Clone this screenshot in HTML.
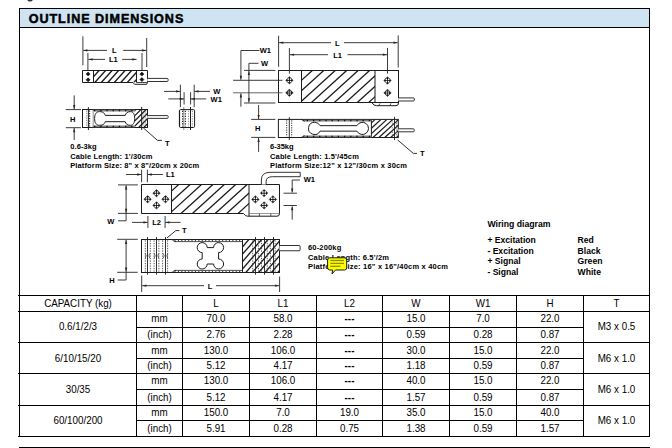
<!DOCTYPE html><html><head><meta charset="utf-8"><style>html,body{margin:0;padding:0;background:#fff;overflow:hidden;}svg{display:block;}text{font-family:"Liberation Sans", sans-serif;}</style></head><body>
<svg width="672" height="448" viewBox="0 0 672 448">
<rect width="672" height="448" fill="#fff"/>
<rect x="19.5" y="8.5" width="630" height="19" fill="#cfe4f2" stroke="#000" stroke-width="1"/>
<text x="28.7" y="22.9" font-size="12.6" font-weight="bold" text-anchor="start" fill="#000" textLength="154.6" lengthAdjust="spacing" stroke="#000" stroke-width="0.5">OUTLINE DIMENSIONS</text>
<path d="M27.3,0 H32.8 Q32.2,1.6 30,1.6 Q27.8,1.6 27.3,0 Z" fill="#333"/>
<line x1="19.5" y1="8" x2="19.5" y2="437" stroke="#000" stroke-width="1" />
<line x1="649.5" y1="8" x2="649.5" y2="437" stroke="#000" stroke-width="1" />
<line x1="19" y1="447.5" x2="650" y2="447.5" stroke="#000" stroke-width="1" />
<line x1="18" y1="295.5" x2="650" y2="295.5" stroke="#000" stroke-width="1" />
<line x1="18" y1="311.5" x2="650" y2="311.5" stroke="#000" stroke-width="1" />
<line x1="136.5" y1="327.5" x2="583.5" y2="327.5" stroke="#000" stroke-width="1" />
<line x1="18" y1="342.5" x2="650" y2="342.5" stroke="#000" stroke-width="1" />
<line x1="136.5" y1="358.5" x2="583.5" y2="358.5" stroke="#000" stroke-width="1" />
<line x1="18" y1="373.5" x2="650" y2="373.5" stroke="#000" stroke-width="1" />
<line x1="136.5" y1="389.5" x2="583.5" y2="389.5" stroke="#000" stroke-width="1" />
<line x1="18" y1="405.5" x2="650" y2="405.5" stroke="#000" stroke-width="1" />
<line x1="136.5" y1="420.5" x2="583.5" y2="420.5" stroke="#000" stroke-width="1" />
<line x1="18" y1="436.5" x2="650" y2="436.5" stroke="#000" stroke-width="1" />
<line x1="136.5" y1="295" x2="136.5" y2="437" stroke="#000" stroke-width="1" />
<line x1="182.5" y1="295" x2="182.5" y2="437" stroke="#000" stroke-width="1" />
<line x1="249.5" y1="295" x2="249.5" y2="437" stroke="#000" stroke-width="1" />
<line x1="316.5" y1="295" x2="316.5" y2="437" stroke="#000" stroke-width="1" />
<line x1="382.5" y1="295" x2="382.5" y2="437" stroke="#000" stroke-width="1" />
<line x1="449.5" y1="295" x2="449.5" y2="437" stroke="#000" stroke-width="1" />
<line x1="516.5" y1="295" x2="516.5" y2="437" stroke="#000" stroke-width="1" />
<line x1="583.5" y1="295" x2="583.5" y2="437" stroke="#000" stroke-width="1" />
<text transform="translate(78.00,307) scale(0.965,1)" font-size="10.17" font-weight="normal" text-anchor="middle" fill="#000">CAPACITY (kg)</text>
<text transform="translate(216.00,307) scale(0.965,1)" font-size="10.17" font-weight="normal" text-anchor="middle" fill="#000">L</text>
<text transform="translate(283.00,307) scale(0.965,1)" font-size="10.17" font-weight="normal" text-anchor="middle" fill="#000">L1</text>
<text transform="translate(349.50,307) scale(0.965,1)" font-size="10.17" font-weight="normal" text-anchor="middle" fill="#000">L2</text>
<text transform="translate(416.00,307) scale(0.965,1)" font-size="10.17" font-weight="normal" text-anchor="middle" fill="#000">W</text>
<text transform="translate(483.00,307) scale(0.965,1)" font-size="10.17" font-weight="normal" text-anchor="middle" fill="#000">W1</text>
<text transform="translate(550.00,307) scale(0.965,1)" font-size="10.17" font-weight="normal" text-anchor="middle" fill="#000">H</text>
<text transform="translate(616.50,307) scale(0.965,1)" font-size="10.17" font-weight="normal" text-anchor="middle" fill="#000">T</text>
<text transform="translate(78.00,330) scale(0.965,1)" font-size="10.17" font-weight="normal" text-anchor="middle" fill="#000">0.6/1/2/3</text>
<text transform="translate(159.50,322) scale(0.965,1)" font-size="10.17" font-weight="normal" text-anchor="middle" fill="#000">mm</text>
<text transform="translate(159.50,338) scale(0.965,1)" font-size="10.17" font-weight="normal" text-anchor="middle" fill="#000">(inch)</text>
<text transform="translate(216.00,322) scale(0.965,1)" font-size="10.17" font-weight="normal" text-anchor="middle" fill="#000">70.0</text>
<text transform="translate(216.00,338) scale(0.965,1)" font-size="10.17" font-weight="normal" text-anchor="middle" fill="#000">2.76</text>
<text transform="translate(283.00,322) scale(0.965,1)" font-size="10.17" font-weight="normal" text-anchor="middle" fill="#000">58.0</text>
<text transform="translate(283.00,338) scale(0.965,1)" font-size="10.17" font-weight="normal" text-anchor="middle" fill="#000">2.28</text>
<text transform="translate(349.50,322) scale(0.965,1)" font-size="10.17" font-weight="bold" text-anchor="middle" fill="#000">---</text>
<text transform="translate(349.50,338) scale(0.965,1)" font-size="10.17" font-weight="bold" text-anchor="middle" fill="#000">---</text>
<text transform="translate(416.00,322) scale(0.965,1)" font-size="10.17" font-weight="normal" text-anchor="middle" fill="#000">15.0</text>
<text transform="translate(416.00,338) scale(0.965,1)" font-size="10.17" font-weight="normal" text-anchor="middle" fill="#000">0.59</text>
<text transform="translate(483.00,322) scale(0.965,1)" font-size="10.17" font-weight="normal" text-anchor="middle" fill="#000">7.0</text>
<text transform="translate(483.00,338) scale(0.965,1)" font-size="10.17" font-weight="normal" text-anchor="middle" fill="#000">0.28</text>
<text transform="translate(550.00,322) scale(0.965,1)" font-size="10.17" font-weight="normal" text-anchor="middle" fill="#000">22.0</text>
<text transform="translate(550.00,338) scale(0.965,1)" font-size="10.17" font-weight="normal" text-anchor="middle" fill="#000">0.87</text>
<text transform="translate(616.50,330) scale(0.965,1)" font-size="10.17" font-weight="normal" text-anchor="middle" fill="#000">M3 x 0.5</text>
<text transform="translate(78.00,362) scale(0.965,1)" font-size="10.17" font-weight="normal" text-anchor="middle" fill="#000">6/10/15/20</text>
<text transform="translate(159.50,354) scale(0.965,1)" font-size="10.17" font-weight="normal" text-anchor="middle" fill="#000">mm</text>
<text transform="translate(159.50,369) scale(0.965,1)" font-size="10.17" font-weight="normal" text-anchor="middle" fill="#000">(inch)</text>
<text transform="translate(216.00,354) scale(0.965,1)" font-size="10.17" font-weight="normal" text-anchor="middle" fill="#000">130.0</text>
<text transform="translate(216.00,369) scale(0.965,1)" font-size="10.17" font-weight="normal" text-anchor="middle" fill="#000">5.12</text>
<text transform="translate(283.00,354) scale(0.965,1)" font-size="10.17" font-weight="normal" text-anchor="middle" fill="#000">106.0</text>
<text transform="translate(283.00,369) scale(0.965,1)" font-size="10.17" font-weight="normal" text-anchor="middle" fill="#000">4.17</text>
<text transform="translate(349.50,354) scale(0.965,1)" font-size="10.17" font-weight="bold" text-anchor="middle" fill="#000">---</text>
<text transform="translate(349.50,369) scale(0.965,1)" font-size="10.17" font-weight="bold" text-anchor="middle" fill="#000">---</text>
<text transform="translate(416.00,354) scale(0.965,1)" font-size="10.17" font-weight="normal" text-anchor="middle" fill="#000">30.0</text>
<text transform="translate(416.00,369) scale(0.965,1)" font-size="10.17" font-weight="normal" text-anchor="middle" fill="#000">1.18</text>
<text transform="translate(483.00,354) scale(0.965,1)" font-size="10.17" font-weight="normal" text-anchor="middle" fill="#000">15.0</text>
<text transform="translate(483.00,369) scale(0.965,1)" font-size="10.17" font-weight="normal" text-anchor="middle" fill="#000">0.59</text>
<text transform="translate(550.00,354) scale(0.965,1)" font-size="10.17" font-weight="normal" text-anchor="middle" fill="#000">22.0</text>
<text transform="translate(550.00,369) scale(0.965,1)" font-size="10.17" font-weight="normal" text-anchor="middle" fill="#000">0.87</text>
<text transform="translate(616.50,362) scale(0.965,1)" font-size="10.17" font-weight="normal" text-anchor="middle" fill="#000">M6 x 1.0</text>
<text transform="translate(78.00,393) scale(0.965,1)" font-size="10.17" font-weight="normal" text-anchor="middle" fill="#000">30/35</text>
<text transform="translate(159.50,384) scale(0.965,1)" font-size="10.17" font-weight="normal" text-anchor="middle" fill="#000">mm</text>
<text transform="translate(159.50,401) scale(0.965,1)" font-size="10.17" font-weight="normal" text-anchor="middle" fill="#000">(inch)</text>
<text transform="translate(216.00,384) scale(0.965,1)" font-size="10.17" font-weight="normal" text-anchor="middle" fill="#000">130.0</text>
<text transform="translate(216.00,401) scale(0.965,1)" font-size="10.17" font-weight="normal" text-anchor="middle" fill="#000">5.12</text>
<text transform="translate(283.00,384) scale(0.965,1)" font-size="10.17" font-weight="normal" text-anchor="middle" fill="#000">106.0</text>
<text transform="translate(283.00,401) scale(0.965,1)" font-size="10.17" font-weight="normal" text-anchor="middle" fill="#000">4.17</text>
<text transform="translate(349.50,384) scale(0.965,1)" font-size="10.17" font-weight="bold" text-anchor="middle" fill="#000">---</text>
<text transform="translate(349.50,401) scale(0.965,1)" font-size="10.17" font-weight="bold" text-anchor="middle" fill="#000">---</text>
<text transform="translate(416.00,384) scale(0.965,1)" font-size="10.17" font-weight="normal" text-anchor="middle" fill="#000">40.0</text>
<text transform="translate(416.00,401) scale(0.965,1)" font-size="10.17" font-weight="normal" text-anchor="middle" fill="#000">1.57</text>
<text transform="translate(483.00,384) scale(0.965,1)" font-size="10.17" font-weight="normal" text-anchor="middle" fill="#000">15.0</text>
<text transform="translate(483.00,401) scale(0.965,1)" font-size="10.17" font-weight="normal" text-anchor="middle" fill="#000">0.59</text>
<text transform="translate(550.00,384) scale(0.965,1)" font-size="10.17" font-weight="normal" text-anchor="middle" fill="#000">22.0</text>
<text transform="translate(550.00,401) scale(0.965,1)" font-size="10.17" font-weight="normal" text-anchor="middle" fill="#000">0.87</text>
<text transform="translate(616.50,393) scale(0.965,1)" font-size="10.17" font-weight="normal" text-anchor="middle" fill="#000">M6 x 1.0</text>
<text transform="translate(78.00,424) scale(0.965,1)" font-size="10.17" font-weight="normal" text-anchor="middle" fill="#000">60/100/200</text>
<text transform="translate(159.50,416) scale(0.965,1)" font-size="10.17" font-weight="normal" text-anchor="middle" fill="#000">mm</text>
<text transform="translate(159.50,432) scale(0.965,1)" font-size="10.17" font-weight="normal" text-anchor="middle" fill="#000">(inch)</text>
<text transform="translate(216.00,416) scale(0.965,1)" font-size="10.17" font-weight="normal" text-anchor="middle" fill="#000">150.0</text>
<text transform="translate(216.00,432) scale(0.965,1)" font-size="10.17" font-weight="normal" text-anchor="middle" fill="#000">5.91</text>
<text transform="translate(283.00,416) scale(0.965,1)" font-size="10.17" font-weight="normal" text-anchor="middle" fill="#000">7.0</text>
<text transform="translate(283.00,432) scale(0.965,1)" font-size="10.17" font-weight="normal" text-anchor="middle" fill="#000">0.28</text>
<text transform="translate(349.50,416) scale(0.965,1)" font-size="10.17" font-weight="normal" text-anchor="middle" fill="#000">19.0</text>
<text transform="translate(349.50,432) scale(0.965,1)" font-size="10.17" font-weight="normal" text-anchor="middle" fill="#000">0.75</text>
<text transform="translate(416.00,416) scale(0.965,1)" font-size="10.17" font-weight="normal" text-anchor="middle" fill="#000">35.0</text>
<text transform="translate(416.00,432) scale(0.965,1)" font-size="10.17" font-weight="normal" text-anchor="middle" fill="#000">1.38</text>
<text transform="translate(483.00,416) scale(0.965,1)" font-size="10.17" font-weight="normal" text-anchor="middle" fill="#000">15.0</text>
<text transform="translate(483.00,432) scale(0.965,1)" font-size="10.17" font-weight="normal" text-anchor="middle" fill="#000">0.59</text>
<text transform="translate(550.00,416) scale(0.965,1)" font-size="10.17" font-weight="normal" text-anchor="middle" fill="#000">40.0</text>
<text transform="translate(550.00,432) scale(0.965,1)" font-size="10.17" font-weight="normal" text-anchor="middle" fill="#000">1.57</text>
<text transform="translate(616.50,424) scale(0.965,1)" font-size="10.17" font-weight="normal" text-anchor="middle" fill="#000">M6 x 1.0</text>
<line x1="82.9" y1="36.3" x2="82.9" y2="65.3" stroke="#262626" stroke-width="0.9" />
<line x1="146.7" y1="38" x2="146.7" y2="67" stroke="#262626" stroke-width="0.9" />
<line x1="83.3" y1="50.4" x2="107" y2="50.4" stroke="#262626" stroke-width="0.9" />
<line x1="123.2" y1="50.4" x2="146.3" y2="50.4" stroke="#262626" stroke-width="0.9" />
<text x="114.2" y="53.199999999999996" font-size="7.5" font-weight="bold" text-anchor="middle" fill="#000" >L</text>
<path d="M83.30,50.40 L87.50,49.25 L87.50,51.55 Z" fill="#262626"/>
<path d="M146.30,50.40 L142.10,51.55 L142.10,49.25 Z" fill="#262626"/>
<line x1="87.9" y1="53" x2="87.9" y2="70.5" stroke="#262626" stroke-width="0.9" />
<line x1="142" y1="53" x2="142" y2="70.5" stroke="#262626" stroke-width="0.9" />
<line x1="88.4" y1="59.4" x2="105" y2="59.4" stroke="#262626" stroke-width="0.9" />
<line x1="122.2" y1="59.4" x2="136.5" y2="59.4" stroke="#262626" stroke-width="0.9" />
<text x="113.3" y="62.199999999999996" font-size="7.5" font-weight="bold" text-anchor="middle" fill="#000" >L1</text>
<path d="M88.40,59.40 L92.60,58.25 L92.60,60.55 Z" fill="#262626"/>
<path d="M136.50,59.40 L132.30,60.55 L132.30,58.25 Z" fill="#262626"/>
<clipPath id="h1"><rect x="93.5" y="70.5" width="43.0" height="12.0"/></clipPath>
<g clip-path="url(#h1)" stroke="#1a1a1a" stroke-width="1.3">
<line x1="81.80" y1="82.5" x2="92.60" y2="70.5"/>
<line x1="88.30" y1="82.5" x2="99.10" y2="70.5"/>
<line x1="94.80" y1="82.5" x2="105.60" y2="70.5"/>
<line x1="101.30" y1="82.5" x2="112.10" y2="70.5"/>
<line x1="107.80" y1="82.5" x2="118.60" y2="70.5"/>
<line x1="114.30" y1="82.5" x2="125.10" y2="70.5"/>
<line x1="120.80" y1="82.5" x2="131.60" y2="70.5"/>
<line x1="127.30" y1="82.5" x2="138.10" y2="70.5"/>
<line x1="133.80" y1="82.5" x2="144.60" y2="70.5"/>
</g>
<path d="M82.5,70.5 H147.5 V82.5 L146.6,84.3 H134.6 L132.8,82.5 H82.5 Z" fill="none" stroke="#1c1c1c" stroke-width="1.0"/>
<line x1="136.5" y1="82.5" x2="147.5" y2="82.5" stroke="#1c1c1c" stroke-width="0.8" />
<line x1="93.5" y1="70.5" x2="93.5" y2="82.5" stroke="#1c1c1c" stroke-width="1.0" />
<line x1="136.5" y1="70.5" x2="136.5" y2="82.5" stroke="#1c1c1c" stroke-width="1.0" />
<path d="M86.1,74 L88.1,72.0 L90.1,74 L88.1,76.0 Z" fill="#111" stroke="#111" stroke-width="0.6" stroke-linejoin="round"/>
<path d="M86.1,79.8 L88.1,77.8 L90.1,79.8 L88.1,81.8 Z" fill="#111" stroke="#111" stroke-width="0.6" stroke-linejoin="round"/>
<path d="M139.9,74.1 L141.9,72.1 L143.9,74.1 L141.9,76.1 Z" fill="#111" stroke="#111" stroke-width="0.6" stroke-linejoin="round"/>
<path d="M139.9,79.6 L141.9,77.6 L143.9,79.6 L141.9,81.6 Z" fill="#111" stroke="#111" stroke-width="0.6" stroke-linejoin="round"/>
<path d="M147.3,78.4 H167.10 Q168.1,78.4 168.1,79.40 V80.50 Q168.1,81.5 167.10,81.5 H147.3" fill="#fff" stroke="#1c1c1c" stroke-width="0.9"/>
<line x1="65.8" y1="109.6" x2="81" y2="109.6" stroke="#262626" stroke-width="0.9" />
<line x1="65.8" y1="127.7" x2="81" y2="127.7" stroke="#262626" stroke-width="0.9" />
<line x1="74.2" y1="95.4" x2="74.2" y2="109.3" stroke="#262626" stroke-width="0.9" />
<path d="M74.20,109.30 L73.05,105.10 L75.35,105.10 Z" fill="#262626"/>
<line x1="74.2" y1="128" x2="74.2" y2="140" stroke="#262626" stroke-width="0.9" />
<path d="M74.20,128.00 L75.35,132.20 L73.05,132.20 Z" fill="#262626"/>
<text x="72.6" y="121.5" font-size="7.5" font-weight="bold" text-anchor="middle" fill="#000" >H</text>
<clipPath id="h2"><rect x="134.5" y="109.5" width="12.699999999999989" height="18.0"/></clipPath>
<g clip-path="url(#h2)" stroke="#1a1a1a" stroke-width="1.2">
<line x1="112.60" y1="127.5" x2="130.60" y2="109.5"/>
<line x1="117.80" y1="127.5" x2="135.80" y2="109.5"/>
<line x1="123.00" y1="127.5" x2="141.00" y2="109.5"/>
<line x1="128.20" y1="127.5" x2="146.20" y2="109.5"/>
<line x1="133.40" y1="127.5" x2="151.40" y2="109.5"/>
<line x1="138.60" y1="127.5" x2="156.60" y2="109.5"/>
<line x1="143.80" y1="127.5" x2="161.80" y2="109.5"/>
</g>
<rect x="82.5" y="109.5" width="65" height="18" fill="none" stroke="#1c1c1c" stroke-width="1.0"/>
<line x1="86.7" y1="110.6" x2="86.7" y2="126.5" stroke="#8a8a8a" stroke-width="1.0" stroke-dasharray="1.2,1.1"/>
<line x1="89.6" y1="110.6" x2="89.6" y2="126.5" stroke="#222" stroke-width="1.1" stroke-dasharray="1.2,1.3"/>
<line x1="93.2" y1="111.5" x2="93.2" y2="125.5" stroke="#777" stroke-width="0.8" />
<line x1="143.8" y1="110.5" x2="143.8" y2="126.5" stroke="#555" stroke-width="0.7" stroke-dasharray="1,1"/>
<line x1="145.6" y1="110.5" x2="145.6" y2="126.5" stroke="#555" stroke-width="0.7" stroke-dasharray="1,1"/>
<line x1="88.4" y1="107.2" x2="88.4" y2="130" stroke="#1c1c1c" stroke-width="1.0" />
<line x1="141.7" y1="106.9" x2="141.7" y2="130" stroke="#1c1c1c" stroke-width="1.0" />
<line x1="92.5" y1="110.5" x2="134.5" y2="110.5" stroke="#7c7c7c" stroke-width="2.2" />
<line x1="92.5" y1="109.5" x2="134.5" y2="109.5" stroke="#333" stroke-width="0.8" />
<line x1="94.0" y1="110.5" x2="134.5" y2="110.5" stroke="#111" stroke-width="1.4" stroke-dasharray="1.3,4.9"/>
<line x1="92.5" y1="126.5" x2="134.5" y2="126.5" stroke="#7c7c7c" stroke-width="2.2" />
<line x1="92.5" y1="127.5" x2="134.5" y2="127.5" stroke="#333" stroke-width="0.8" />
<line x1="94.0" y1="126.5" x2="134.5" y2="126.5" stroke="#111" stroke-width="1.4" stroke-dasharray="1.3,4.9"/>
<path d="M99.5,111.6 C103.5,111.6 104.6,113.5 105.2,115.4 H125.2 C125.8,113.5 127,111.6 130.3,111.6 C133.5,111.6 134.7,114.5 134.7,118.5 C134.7,122.5 133.5,125.3 130.3,125.3 C127,125.3 125.8,123.6 125.2,121.7 H105.2 C104.6,123.6 103.5,125.3 99.5,125.3 C96,125.3 94.6,122.5 94.6,118.5 C94.6,114.5 96,111.6 99.5,111.6 Z" fill="#fff" stroke="#1c1c1c" stroke-width="1.0"/>
<path d="M147.3,115.6 H167.20 Q168.2,115.6 168.2,116.60 V117.40 Q168.2,118.4 167.20,118.4 H147.3" fill="#fff" stroke="#1c1c1c" stroke-width="0.9"/>
<path d="M143.3,127.9 L157.5,140.4 H162" fill="none" stroke="#1c1c1c" stroke-width="0.9"/>
<text x="167.2" y="145.7" font-size="7.5" font-weight="bold" text-anchor="middle" fill="#000" >T</text>
<text x="70.2" y="148.7" font-size="7.5" font-weight="bold" text-anchor="start" fill="#000" textLength="26.5" lengthAdjust="spacing" >0.6-3kg</text>
<text x="70.2" y="158.5" font-size="7.5" font-weight="bold" text-anchor="start" fill="#000" textLength="82.3" lengthAdjust="spacing" >Cable Length: 1'/30cm</text>
<text x="70.2" y="167.5" font-size="7.5" font-weight="bold" text-anchor="start" fill="#000" textLength="129" lengthAdjust="spacing" >Platform Size: 8&quot; x 8&quot;/20cm x 20cm</text>
<line x1="180.4" y1="84.7" x2="180.4" y2="107.2" stroke="#262626" stroke-width="0.9" />
<line x1="194.2" y1="84.7" x2="194.2" y2="107.2" stroke="#262626" stroke-width="0.9" />
<line x1="184.1" y1="92.2" x2="184.1" y2="104.5" stroke="#262626" stroke-width="0.9" />
<line x1="190.6" y1="92.2" x2="190.6" y2="104.5" stroke="#262626" stroke-width="0.9" />
<line x1="183.8" y1="107" x2="183.8" y2="130" stroke="#888" stroke-width="1.0" />
<line x1="190.5" y1="107" x2="190.5" y2="130" stroke="#1c1c1c" stroke-width="1.0" />
<line x1="164" y1="91.4" x2="180" y2="91.4" stroke="#262626" stroke-width="0.9" />
<path d="M180.20,91.40 L176.00,92.55 L176.00,90.25 Z" fill="#262626"/>
<line x1="194.5" y1="91.4" x2="209.9" y2="91.4" stroke="#262626" stroke-width="0.9" />
<path d="M194.40,91.40 L198.60,90.25 L198.60,92.55 Z" fill="#262626"/>
<line x1="168.3" y1="98.9" x2="184" y2="98.9" stroke="#262626" stroke-width="0.9" />
<path d="M183.90,98.90 L179.70,100.05 L179.70,97.75 Z" fill="#262626"/>
<line x1="190.6" y1="98.9" x2="206.2" y2="98.9" stroke="#262626" stroke-width="0.9" />
<path d="M190.80,98.90 L195.00,97.75 L195.00,100.05 Z" fill="#262626"/>
<text x="216.8" y="94.2" font-size="7.5" font-weight="bold" text-anchor="middle" fill="#000" >W</text>
<text x="216.2" y="101.7" font-size="7.5" font-weight="bold" text-anchor="middle" fill="#000" >W1</text>
<rect x="179.4" y="109.6" width="15.2" height="17.9" rx="1.2" fill="none" stroke="#1c1c1c" stroke-width="1.0"/>
<line x1="182.6" y1="110.8" x2="182.6" y2="126.5" stroke="#222" stroke-width="1.1" stroke-dasharray="1.2,1.3"/>
<line x1="185.4" y1="110.8" x2="185.4" y2="126.5" stroke="#222" stroke-width="1.1" stroke-dasharray="1.2,1.3"/>
<line x1="188.5" y1="110.8" x2="188.5" y2="126.5" stroke="#999" stroke-width="1.1" stroke-dasharray="1.2,1.3"/>
<line x1="192.4" y1="110.8" x2="192.4" y2="126.5" stroke="#999" stroke-width="1.1" stroke-dasharray="1.2,1.3"/>
<line x1="179.6" y1="110.5" x2="179.6" y2="126.7" stroke="#111" stroke-width="0.8" />
<line x1="278.6" y1="35.8" x2="278.6" y2="66.8" stroke="#262626" stroke-width="0.9" />
<line x1="398.2" y1="35.4" x2="398.2" y2="67.5" stroke="#262626" stroke-width="0.9" />
<line x1="279.1" y1="42.7" x2="331" y2="42.7" stroke="#262626" stroke-width="0.9" />
<line x1="344" y1="42.7" x2="397.7" y2="42.7" stroke="#262626" stroke-width="0.9" />
<text x="337.2" y="45.5" font-size="7.5" font-weight="bold" text-anchor="middle" fill="#000" >L</text>
<path d="M279.10,42.70 L283.30,41.55 L283.30,43.85 Z" fill="#262626"/>
<path d="M397.70,42.70 L393.50,43.85 L393.50,41.55 Z" fill="#262626"/>
<line x1="289.4" y1="48" x2="289.4" y2="73.6" stroke="#262626" stroke-width="0.9" />
<line x1="387.5" y1="47.9" x2="387.5" y2="73.6" stroke="#262626" stroke-width="0.9" />
<line x1="289.9" y1="54.7" x2="328" y2="54.7" stroke="#262626" stroke-width="0.9" />
<line x1="347.5" y1="54.7" x2="387" y2="54.7" stroke="#262626" stroke-width="0.9" />
<text x="337.6" y="57.5" font-size="7.5" font-weight="bold" text-anchor="middle" fill="#000" >L1</text>
<path d="M289.90,54.70 L294.10,53.55 L294.10,55.85 Z" fill="#262626"/>
<path d="M387.00,54.70 L382.80,55.85 L382.80,53.55 Z" fill="#262626"/>
<clipPath id="h3"><rect x="301.5" y="70.5" width="73.5" height="32.0"/></clipPath>
<g clip-path="url(#h3)" stroke="#1a1a1a" stroke-width="1.25">
<line x1="265.65" y1="102.5" x2="300.85" y2="70.5"/>
<line x1="277.10" y1="102.5" x2="312.30" y2="70.5"/>
<line x1="288.55" y1="102.5" x2="323.75" y2="70.5"/>
<line x1="300.00" y1="102.5" x2="335.20" y2="70.5"/>
<line x1="311.45" y1="102.5" x2="346.65" y2="70.5"/>
<line x1="322.90" y1="102.5" x2="358.10" y2="70.5"/>
<line x1="334.35" y1="102.5" x2="369.55" y2="70.5"/>
<line x1="345.80" y1="102.5" x2="381.00" y2="70.5"/>
<line x1="357.25" y1="102.5" x2="392.45" y2="70.5"/>
<line x1="368.70" y1="102.5" x2="403.90" y2="70.5"/>
</g>
<rect x="278.5" y="70.5" width="120" height="32" fill="none" stroke="#1c1c1c" stroke-width="1.0"/>
<path d="M371.8,102.5 Q373.5,105.7 376.5,105.7 H396 Q398.5,105.7 398.5,103" fill="none" stroke="#1c1c1c" stroke-width="1.0"/>
<path d="M378.7,106 L380,103.3 M389.7,106 L391,103.3" fill="none" stroke="#1c1c1c" stroke-width="0.7"/>
<line x1="301.5" y1="70.5" x2="301.5" y2="102.5" stroke="#1c1c1c" stroke-width="1.0" />
<line x1="375" y1="70.5" x2="375" y2="102.5" stroke="#1c1c1c" stroke-width="1.0" />
<path d="M285.70,80.30 L287.48,78.38 L289.40,76.60 L291.32,78.38 L293.10,80.30 L291.32,82.22 L289.40,84.00 L287.48,82.22 Z" fill="#151515" stroke="#151515" stroke-width="0.4" stroke-linejoin="round"/>
<circle cx="289.4" cy="80.3" r="2.44" fill="#151515"/>
<circle cx="288.22" cy="79.12" r="0.85" fill="#fff"/>
<circle cx="288.22" cy="81.48" r="0.85" fill="#fff"/>
<circle cx="290.58" cy="79.12" r="0.85" fill="#fff"/>
<circle cx="290.58" cy="81.48" r="0.85" fill="#fff"/>
<path d="M285.7,92.8 L289.4,89.1 L293.09999999999997,92.8 L289.4,96.5 Z" fill="#151515" stroke="#151515" stroke-width="0.5" stroke-linejoin="round"/>
<rect x="287.79999999999995" y="90.6" width="3.2" height="4.4" fill="#999"/>
<line x1="289.4" y1="90.2" x2="289.4" y2="95.39999999999999" stroke="#222" stroke-width="0.8" />
<path d="M383.80,80.50 L385.58,78.58 L387.50,76.80 L389.42,78.58 L391.20,80.50 L389.42,82.42 L387.50,84.20 L385.58,82.42 Z" fill="#151515" stroke="#151515" stroke-width="0.4" stroke-linejoin="round"/>
<circle cx="387.5" cy="80.5" r="2.44" fill="#151515"/>
<circle cx="386.32" cy="79.32" r="0.85" fill="#fff"/>
<circle cx="386.32" cy="81.68" r="0.85" fill="#fff"/>
<circle cx="388.68" cy="79.32" r="0.85" fill="#fff"/>
<circle cx="388.68" cy="81.68" r="0.85" fill="#fff"/>
<path d="M383.8,92.9 L387.5,89.2 L391.2,92.9 L387.5,96.60000000000001 Z" fill="#151515" stroke="#151515" stroke-width="0.5" stroke-linejoin="round"/>
<rect x="385.9" y="90.7" width="3.2" height="4.4" fill="#999"/>
<line x1="387.5" y1="90.30000000000001" x2="387.5" y2="95.5" stroke="#222" stroke-width="0.8" />
<path d="M398.2,97.9 H413.30 Q414.3,97.9 414.3,98.90 V100.00 Q414.3,101 413.30,101 H398.2" fill="#fff" stroke="#1c1c1c" stroke-width="0.9"/>
<line x1="244" y1="70.4" x2="275.4" y2="70.4" stroke="#262626" stroke-width="0.9" />
<line x1="244" y1="103" x2="275.4" y2="103" stroke="#262626" stroke-width="0.9" />
<line x1="233.1" y1="80.3" x2="282.5" y2="80.3" stroke="#262626" stroke-width="0.9" />
<line x1="233.1" y1="92.8" x2="282.5" y2="92.8" stroke="#555" stroke-width="0.9" />
<path d="M259.4,50.5 H240.9 V79.6" fill="none" stroke="#262626" stroke-width="0.9"/>
<path d="M240.90,80.00 L239.75,75.80 L242.05,75.80 Z" fill="#262626"/>
<line x1="240.9" y1="93.5" x2="240.9" y2="106.7" stroke="#262626" stroke-width="0.9" />
<path d="M240.90,93.20 L242.05,97.40 L239.75,97.40 Z" fill="#262626"/>
<path d="M258.5,63.3 H248.9 V102.5" fill="none" stroke="#262626" stroke-width="0.9"/>
<path d="M248.90,70.90 L250.05,75.10 L247.75,75.10 Z" fill="#262626"/>
<path d="M248.90,102.50 L247.75,98.30 L250.05,98.30 Z" fill="#262626"/>
<text x="265.4" y="53.3" font-size="7.5" font-weight="bold" text-anchor="middle" fill="#000" >W1</text>
<text x="264.6" y="66.1" font-size="7.5" font-weight="bold" text-anchor="middle" fill="#000" >W</text>
<line x1="251.2" y1="119.4" x2="275.4" y2="119.4" stroke="#262626" stroke-width="0.9" />
<line x1="251.2" y1="137.4" x2="275.4" y2="137.4" stroke="#262626" stroke-width="0.9" />
<line x1="258.6" y1="105" x2="258.6" y2="119" stroke="#262626" stroke-width="0.9" />
<path d="M258.60,119.10 L257.45,114.90 L259.75,114.90 Z" fill="#262626"/>
<line x1="258.6" y1="137.8" x2="258.6" y2="151.9" stroke="#262626" stroke-width="0.9" />
<path d="M258.60,137.70 L259.75,141.90 L257.45,141.90 Z" fill="#262626"/>
<text x="257.6" y="131.3" font-size="7.5" font-weight="bold" text-anchor="middle" fill="#000" >H</text>
<clipPath id="h4"><rect x="371.4" y="119.4" width="26.900000000000034" height="18.099999999999994"/></clipPath>
<g clip-path="url(#h4)" stroke="#1a1a1a" stroke-width="1.2">
<line x1="349.39" y1="137.5" x2="369.30" y2="119.4"/>
<line x1="355.29" y1="137.5" x2="375.20" y2="119.4"/>
<line x1="361.19" y1="137.5" x2="381.10" y2="119.4"/>
<line x1="367.09" y1="137.5" x2="387.00" y2="119.4"/>
<line x1="372.99" y1="137.5" x2="392.90" y2="119.4"/>
<line x1="378.89" y1="137.5" x2="398.80" y2="119.4"/>
<line x1="384.79" y1="137.5" x2="404.70" y2="119.4"/>
<line x1="390.69" y1="137.5" x2="410.60" y2="119.4"/>
<line x1="396.59" y1="137.5" x2="416.50" y2="119.4"/>
</g>
<rect x="278.4" y="119.4" width="119.9" height="18.1" fill="none" stroke="#1c1c1c" stroke-width="1.0"/>
<line x1="371.4" y1="119.4" x2="371.4" y2="137.5" stroke="#1c1c1c" stroke-width="1.0" />
<line x1="286.7" y1="120.3" x2="286.7" y2="136.6" stroke="#333" stroke-width="1.0" stroke-dasharray="1.2,1.1"/>
<line x1="291.7" y1="120.3" x2="291.7" y2="136.6" stroke="#333" stroke-width="1.0" stroke-dasharray="1.2,1.1"/>
<line x1="392.3" y1="120.3" x2="392.3" y2="136.6" stroke="#666" stroke-width="0.9" stroke-dasharray="1.2,1.1"/>
<line x1="396.6" y1="120.3" x2="396.6" y2="136.6" stroke="#666" stroke-width="0.9" stroke-dasharray="1.2,1.1"/>
<line x1="289.3" y1="117.2" x2="289.3" y2="140.1" stroke="#1c1c1c" stroke-width="0.9" />
<line x1="394.5" y1="116.8" x2="394.5" y2="140.1" stroke="#1c1c1c" stroke-width="0.9" />
<line x1="303" y1="120.5" x2="371.4" y2="120.5" stroke="#7c7c7c" stroke-width="2.2" />
<line x1="303" y1="119.5" x2="371.4" y2="119.5" stroke="#333" stroke-width="0.8" />
<line x1="306.75" y1="120.5" x2="371.4" y2="120.5" stroke="#111" stroke-width="1.4" stroke-dasharray="1.3,4.9"/>
<line x1="303" y1="136.5" x2="371.4" y2="136.5" stroke="#7c7c7c" stroke-width="2.2" />
<line x1="303" y1="137.5" x2="371.4" y2="137.5" stroke="#333" stroke-width="0.8" />
<line x1="306.75" y1="136.5" x2="371.4" y2="136.5" stroke="#111" stroke-width="1.4" stroke-dasharray="1.3,4.9"/>
<path d="M301.2,119.4 L304.6,121.2 M301.2,137.5 L304.6,135.7" stroke="#1c1c1c" stroke-width="0.9"/>
<path d="M314.6,122.3 A6.1,6.1 0 0 1 320.05,125.65 H356.95 A6.1,6.1 0 1 1 356.95,131.15 H320.05 A6.1,6.1 0 1 1 314.6,122.3 Z" fill="#fff" stroke="#1c1c1c" stroke-width="1.0"/>
<path d="M398.3,128.8 H413.20 Q414.2,128.8 414.2,129.80 V130.80 Q414.2,131.8 413.20,131.8 H398.3" fill="#fff" stroke="#1c1c1c" stroke-width="0.9"/>
<path d="M397.7,140 L413.3,153.4 H417" fill="none" stroke="#1c1c1c" stroke-width="0.9"/>
<text x="422.3" y="156.3" font-size="7.5" font-weight="bold" text-anchor="middle" fill="#000" >T</text>
<text x="270" y="149.1" font-size="7.5" font-weight="bold" text-anchor="start" fill="#000" textLength="23.6" lengthAdjust="spacing" >6-35kg</text>
<text x="270" y="158.7" font-size="7.5" font-weight="bold" text-anchor="start" fill="#000" textLength="88.8" lengthAdjust="spacing" >Cable Length: 1.5'/45cm</text>
<text x="270" y="167.7" font-size="7.5" font-weight="bold" text-anchor="start" fill="#000" textLength="137" lengthAdjust="spacing" >Platform Size:12&quot; x 12&quot;/30cm x 30cm</text>
<clipPath id="h5"><rect x="171.5" y="184.5" width="77.5" height="29.0"/></clipPath>
<g clip-path="url(#h5)" stroke="#1a1a1a" stroke-width="1.25">
<line x1="135.40" y1="213.5" x2="167.30" y2="184.5"/>
<line x1="146.80" y1="213.5" x2="178.70" y2="184.5"/>
<line x1="158.20" y1="213.5" x2="190.10" y2="184.5"/>
<line x1="169.60" y1="213.5" x2="201.50" y2="184.5"/>
<line x1="181.00" y1="213.5" x2="212.90" y2="184.5"/>
<line x1="192.40" y1="213.5" x2="224.30" y2="184.5"/>
<line x1="203.80" y1="213.5" x2="235.70" y2="184.5"/>
<line x1="215.20" y1="213.5" x2="247.10" y2="184.5"/>
<line x1="226.60" y1="213.5" x2="258.50" y2="184.5"/>
<line x1="238.00" y1="213.5" x2="269.90" y2="184.5"/>
</g>
<path d="M141.5,184.5 H279.5 V213.8 Q279.5,216.2 277,216.2 H247.5 Q245.5,216.2 243.5,213.5 H141.5 Z" fill="none" stroke="#1c1c1c" stroke-width="1.0"/>
<line x1="171.5" y1="184.5" x2="171.5" y2="213.5" stroke="#1c1c1c" stroke-width="1.0" />
<line x1="249" y1="184.5" x2="249" y2="216.2" stroke="#1c1c1c" stroke-width="1.0" />
<line x1="249" y1="213.5" x2="279.5" y2="213.5" stroke="#555" stroke-width="0.6" />
<line x1="259.4" y1="213.5" x2="259.4" y2="216.2" stroke="#1c1c1c" stroke-width="0.7" />
<line x1="270.8" y1="213.5" x2="270.8" y2="216.2" stroke="#1c1c1c" stroke-width="0.7" />
<path d="M152.80,193.20 L154.58,191.28 L156.50,189.50 L158.42,191.28 L160.20,193.20 L158.42,195.12 L156.50,196.90 L154.58,195.12 Z" fill="#151515" stroke="#151515" stroke-width="0.4" stroke-linejoin="round"/>
<circle cx="156.5" cy="193.2" r="2.44" fill="#151515"/>
<circle cx="155.32" cy="192.02" r="0.85" fill="#fff"/>
<circle cx="155.32" cy="194.38" r="0.85" fill="#fff"/>
<circle cx="157.68" cy="192.02" r="0.85" fill="#fff"/>
<circle cx="157.68" cy="194.38" r="0.85" fill="#fff"/>
<path d="M143.90,199.20 L145.68,197.28 L147.60,195.50 L149.52,197.28 L151.30,199.20 L149.52,201.12 L147.60,202.90 L145.68,201.12 Z" fill="#151515" stroke="#151515" stroke-width="0.4" stroke-linejoin="round"/>
<circle cx="147.6" cy="199.2" r="2.44" fill="#151515"/>
<circle cx="146.42" cy="198.02" r="0.85" fill="#fff"/>
<circle cx="146.42" cy="200.38" r="0.85" fill="#fff"/>
<circle cx="148.78" cy="198.02" r="0.85" fill="#fff"/>
<circle cx="148.78" cy="200.38" r="0.85" fill="#fff"/>
<path d="M161.80,199.20 L163.58,197.28 L165.50,195.50 L167.42,197.28 L169.20,199.20 L167.42,201.12 L165.50,202.90 L163.58,201.12 Z" fill="#151515" stroke="#151515" stroke-width="0.4" stroke-linejoin="round"/>
<circle cx="165.5" cy="199.2" r="2.44" fill="#151515"/>
<circle cx="164.32" cy="198.02" r="0.85" fill="#fff"/>
<circle cx="164.32" cy="200.38" r="0.85" fill="#fff"/>
<circle cx="166.68" cy="198.02" r="0.85" fill="#fff"/>
<circle cx="166.68" cy="200.38" r="0.85" fill="#fff"/>
<path d="M152.80,205.40 L154.58,203.48 L156.50,201.70 L158.42,203.48 L160.20,205.40 L158.42,207.32 L156.50,209.10 L154.58,207.32 Z" fill="#151515" stroke="#151515" stroke-width="0.4" stroke-linejoin="round"/>
<circle cx="156.5" cy="205.4" r="2.44" fill="#151515"/>
<circle cx="155.32" cy="204.22" r="0.85" fill="#fff"/>
<circle cx="155.32" cy="206.58" r="0.85" fill="#fff"/>
<circle cx="157.68" cy="204.22" r="0.85" fill="#fff"/>
<circle cx="157.68" cy="206.58" r="0.85" fill="#fff"/>
<path d="M260.40,193.10 L262.18,191.18 L264.10,189.40 L266.02,191.18 L267.80,193.10 L266.02,195.02 L264.10,196.80 L262.18,195.02 Z" fill="#151515" stroke="#151515" stroke-width="0.4" stroke-linejoin="round"/>
<circle cx="264.1" cy="193.1" r="2.44" fill="#151515"/>
<circle cx="262.92" cy="191.92" r="0.85" fill="#fff"/>
<circle cx="262.92" cy="194.28" r="0.85" fill="#fff"/>
<circle cx="265.28" cy="191.92" r="0.85" fill="#fff"/>
<circle cx="265.28" cy="194.28" r="0.85" fill="#fff"/>
<path d="M251.70,199.40 L253.48,197.48 L255.40,195.70 L257.32,197.48 L259.10,199.40 L257.32,201.32 L255.40,203.10 L253.48,201.32 Z" fill="#151515" stroke="#151515" stroke-width="0.4" stroke-linejoin="round"/>
<circle cx="255.4" cy="199.4" r="2.44" fill="#151515"/>
<circle cx="254.22" cy="198.22" r="0.85" fill="#fff"/>
<circle cx="254.22" cy="200.58" r="0.85" fill="#fff"/>
<circle cx="256.58" cy="198.22" r="0.85" fill="#fff"/>
<circle cx="256.58" cy="200.58" r="0.85" fill="#fff"/>
<path d="M269.20,199.40 L270.98,197.48 L272.90,195.70 L274.82,197.48 L276.60,199.40 L274.82,201.32 L272.90,203.10 L270.98,201.32 Z" fill="#151515" stroke="#151515" stroke-width="0.4" stroke-linejoin="round"/>
<circle cx="272.9" cy="199.4" r="2.44" fill="#151515"/>
<circle cx="271.72" cy="198.22" r="0.85" fill="#fff"/>
<circle cx="271.72" cy="200.58" r="0.85" fill="#fff"/>
<circle cx="274.08" cy="198.22" r="0.85" fill="#fff"/>
<circle cx="274.08" cy="200.58" r="0.85" fill="#fff"/>
<path d="M260.40,205.40 L262.18,203.48 L264.10,201.70 L266.02,203.48 L267.80,205.40 L266.02,207.32 L264.10,209.10 L262.18,207.32 Z" fill="#151515" stroke="#151515" stroke-width="0.4" stroke-linejoin="round"/>
<circle cx="264.1" cy="205.4" r="2.44" fill="#151515"/>
<circle cx="262.92" cy="204.22" r="0.85" fill="#fff"/>
<circle cx="262.92" cy="206.58" r="0.85" fill="#fff"/>
<circle cx="265.28" cy="204.22" r="0.85" fill="#fff"/>
<circle cx="265.28" cy="206.58" r="0.85" fill="#fff"/>
<path d="M261.4,184.5 V180 Q261.4,172.3 270,172.3 H300.2 V176.7 H272.5 Q266.1,176.7 266.1,181.5 V184.5" fill="#fff" stroke="#1c1c1c" stroke-width="0.9"/>
<line x1="118" y1="184.9" x2="137.9" y2="184.9" stroke="#262626" stroke-width="0.9" />
<line x1="118" y1="213.4" x2="137.9" y2="213.4" stroke="#262626" stroke-width="0.9" />
<path d="M126.1,185.4 V220.8 H118" fill="none" stroke="#262626" stroke-width="0.9"/>
<path d="M126.10,185.30 L127.25,189.50 L124.95,189.50 Z" fill="#262626"/>
<path d="M126.10,213.00 L124.95,208.80 L127.25,208.80 Z" fill="#262626"/>
<text x="110.9" y="223.6" font-size="7.5" font-weight="bold" text-anchor="middle" fill="#000" >W</text>
<line x1="141.6" y1="169.7" x2="141.6" y2="182.2" stroke="#262626" stroke-width="0.9" />
<line x1="147.4" y1="169.7" x2="147.4" y2="182.2" stroke="#262626" stroke-width="0.9" />
<line x1="126.1" y1="174.5" x2="141.2" y2="174.5" stroke="#262626" stroke-width="0.9" />
<path d="M141.40,174.50 L137.20,175.65 L137.20,173.35 Z" fill="#262626"/>
<line x1="147.7" y1="174.5" x2="162.9" y2="174.5" stroke="#262626" stroke-width="0.9" />
<path d="M147.60,174.50 L151.80,173.35 L151.80,175.65 Z" fill="#262626"/>
<text x="170.3" y="177.3" font-size="7.5" font-weight="bold" text-anchor="middle" fill="#000" >L1</text>
<line x1="147.9" y1="216" x2="147.9" y2="227.9" stroke="#262626" stroke-width="0.9" />
<line x1="165.1" y1="216" x2="165.1" y2="227.9" stroke="#262626" stroke-width="0.9" />
<line x1="132" y1="222.4" x2="147.6" y2="222.4" stroke="#262626" stroke-width="0.9" />
<path d="M147.70,222.40 L143.50,223.55 L143.50,221.25 Z" fill="#262626"/>
<line x1="165.4" y1="222.4" x2="180.6" y2="222.4" stroke="#262626" stroke-width="0.9" />
<path d="M165.30,222.40 L169.50,221.25 L169.50,223.55 Z" fill="#262626"/>
<text x="156.6" y="225.2" font-size="7.5" font-weight="bold" text-anchor="middle" fill="#000" >L2</text>
<line x1="283.5" y1="193.2" x2="296.9" y2="193.2" stroke="#262626" stroke-width="0.9" />
<line x1="283.5" y1="205.5" x2="296.9" y2="205.5" stroke="#262626" stroke-width="0.9" />
<path d="M300,180 H292.2 V192.4" fill="none" stroke="#262626" stroke-width="0.9"/>
<path d="M292.20,192.70 L291.05,188.50 L293.35,188.50 Z" fill="#262626"/>
<line x1="292.2" y1="206.5" x2="292.2" y2="219.6" stroke="#262626" stroke-width="0.9" />
<path d="M292.20,206.10 L293.35,210.30 L291.05,210.30 Z" fill="#262626"/>
<text x="309.3" y="181.9" font-size="7.5" font-weight="bold" text-anchor="middle" fill="#000" >W1</text>
<clipPath id="h6"><rect x="242.5" y="239.5" width="37.0" height="33.0"/></clipPath>
<g clip-path="url(#h6)" stroke="#1a1a1a" stroke-width="1.3">
<line x1="213.79" y1="272.5" x2="242.50" y2="239.5"/>
<line x1="220.19" y1="272.5" x2="248.90" y2="239.5"/>
<line x1="226.59" y1="272.5" x2="255.30" y2="239.5"/>
<line x1="232.99" y1="272.5" x2="261.70" y2="239.5"/>
<line x1="239.39" y1="272.5" x2="268.10" y2="239.5"/>
<line x1="245.79" y1="272.5" x2="274.50" y2="239.5"/>
<line x1="252.19" y1="272.5" x2="280.90" y2="239.5"/>
<line x1="258.59" y1="272.5" x2="287.30" y2="239.5"/>
<line x1="264.99" y1="272.5" x2="293.70" y2="239.5"/>
<line x1="271.39" y1="272.5" x2="300.10" y2="239.5"/>
<line x1="277.79" y1="272.5" x2="306.50" y2="239.5"/>
</g>
<rect x="141.5" y="239.5" width="138" height="33" fill="none" stroke="#1c1c1c" stroke-width="1.0"/>
<line x1="242.5" y1="239.5" x2="242.5" y2="272.5" stroke="#1c1c1c" stroke-width="1.0" />
<line x1="145.3" y1="240.4" x2="145.3" y2="271.6" stroke="#555" stroke-width="1.0" stroke-dasharray="1.3,1.2"/>
<line x1="150.3" y1="240.4" x2="150.3" y2="271.6" stroke="#555" stroke-width="1.0" stroke-dasharray="1.3,1.2"/>
<line x1="154.1" y1="240.4" x2="154.1" y2="271.6" stroke="#555" stroke-width="1.0" stroke-dasharray="1.3,1.2"/>
<line x1="158.9" y1="240.4" x2="158.9" y2="271.6" stroke="#555" stroke-width="1.0" stroke-dasharray="1.3,1.2"/>
<line x1="162.6" y1="240.4" x2="162.6" y2="271.6" stroke="#555" stroke-width="1.0" stroke-dasharray="1.3,1.2"/>
<line x1="167.6" y1="240.4" x2="167.6" y2="271.6" stroke="#555" stroke-width="1.0" stroke-dasharray="1.3,1.2"/>
<line x1="252.7" y1="240.4" x2="252.7" y2="271.6" stroke="#555" stroke-width="1.0" stroke-dasharray="1.3,1.2"/>
<line x1="258.4" y1="240.4" x2="258.4" y2="271.6" stroke="#555" stroke-width="1.0" stroke-dasharray="1.3,1.2"/>
<line x1="261.5" y1="240.4" x2="261.5" y2="271.6" stroke="#555" stroke-width="1.0" stroke-dasharray="1.3,1.2"/>
<line x1="267.25" y1="240.4" x2="267.25" y2="271.6" stroke="#555" stroke-width="1.0" stroke-dasharray="1.3,1.2"/>
<line x1="270.4" y1="240.4" x2="270.4" y2="271.6" stroke="#555" stroke-width="1.0" stroke-dasharray="1.3,1.2"/>
<line x1="275.1" y1="240.4" x2="275.1" y2="271.6" stroke="#555" stroke-width="1.0" stroke-dasharray="1.3,1.2"/>
<path d="M145.2,253.4 Q147.1,255.8 145.2,258.2 M149.8,253.4 Q147.9,255.8 149.8,258.2" fill="none" stroke="#555" stroke-width="0.9"/>
<path d="M154.2,253.4 Q156.1,255.8 154.2,258.2 M158.8,253.4 Q156.9,255.8 158.8,258.2" fill="none" stroke="#555" stroke-width="0.9"/>
<path d="M163.2,253.4 Q165.1,255.8 163.2,258.2 M167.8,253.4 Q165.9,255.8 167.8,258.2" fill="none" stroke="#555" stroke-width="0.9"/>
<line x1="147.5" y1="237" x2="147.5" y2="274.7" stroke="#1c1c1c" stroke-width="0.9" />
<line x1="156.5" y1="237" x2="156.5" y2="274.7" stroke="#1c1c1c" stroke-width="0.9" />
<line x1="165.5" y1="237" x2="165.5" y2="274.7" stroke="#1c1c1c" stroke-width="0.9" />
<line x1="255.5" y1="237" x2="255.5" y2="274.7" stroke="#1c1c1c" stroke-width="0.9" />
<line x1="264.5" y1="237" x2="264.5" y2="274.7" stroke="#1c1c1c" stroke-width="0.9" />
<line x1="273.5" y1="237" x2="273.5" y2="274.7" stroke="#1c1c1c" stroke-width="0.9" />
<line x1="174.5" y1="239.5" x2="242.5" y2="239.5" stroke="#222" stroke-width="0.8" />
<line x1="174.5" y1="241.6" x2="242.5" y2="241.6" stroke="#222" stroke-width="0.8" />
<line x1="174.5" y1="240.55" x2="242.5" y2="240.55" stroke="#444" stroke-width="1.3" stroke-dasharray="1.1,2.3"/>
<line x1="174.5" y1="272.5" x2="242.5" y2="272.5" stroke="#222" stroke-width="0.8" />
<line x1="174.5" y1="270.4" x2="242.5" y2="270.4" stroke="#222" stroke-width="0.8" />
<line x1="174.5" y1="271.45" x2="242.5" y2="271.45" stroke="#444" stroke-width="1.3" stroke-dasharray="1.1,2.3"/>
<path d="M172.1,239.5 Q173.5,241.6 175.5,241.6 M172.1,272.5 Q173.5,270.4 175.5,270.4" fill="none" stroke="#1c1c1c" stroke-width="0.9"/>
<path d="M207.20,247.60 H213.60 A5.0,5.0 0 1 1 218.60,252.60 V259.00 A5.0,5.0 0 1 1 213.60,264.00 H207.20 A5.0,5.0 0 1 1 202.20,259.00 V252.60 A5.0,5.0 0 1 1 207.20,247.60 Z" fill="#fff" stroke="#1c1c1c" stroke-width="1.0"/>
<path d="M279.5,245.5 H299.10 Q300.1,245.5 300.1,246.50 V249.75 Q300.1,250.75 299.10,250.75 H279.5" fill="#fff" stroke="#1c1c1c" stroke-width="0.9"/>
<path d="M166.9,238 L175.8,230.6 H179.4" fill="none" stroke="#1c1c1c" stroke-width="0.9"/>
<text x="184.4" y="232.6" font-size="7.5" font-weight="bold" text-anchor="middle" fill="#000" >T</text>
<line x1="117.2" y1="239.3" x2="137.7" y2="239.3" stroke="#262626" stroke-width="0.9" />
<line x1="117.2" y1="272.3" x2="137.7" y2="272.3" stroke="#262626" stroke-width="0.9" />
<path d="M126.1,239.8 V280 H117.6" fill="none" stroke="#262626" stroke-width="0.9"/>
<path d="M126.10,239.80 L127.25,244.00 L124.95,244.00 Z" fill="#262626"/>
<path d="M126.10,271.80 L124.95,267.60 L127.25,267.60 Z" fill="#262626"/>
<text x="112" y="282.7" font-size="7.5" font-weight="bold" text-anchor="middle" fill="#000" >H</text>
<line x1="141.7" y1="275.6" x2="141.7" y2="291.9" stroke="#262626" stroke-width="0.9" />
<line x1="279.6" y1="276.5" x2="279.6" y2="292" stroke="#262626" stroke-width="0.9" />
<line x1="142.2" y1="285.7" x2="204" y2="285.7" stroke="#262626" stroke-width="0.9" />
<line x1="216" y1="285.7" x2="279.1" y2="285.7" stroke="#262626" stroke-width="0.9" />
<text x="210" y="288.5" font-size="7.5" font-weight="bold" text-anchor="middle" fill="#000" >L</text>
<path d="M142.20,285.70 L146.40,284.55 L146.40,286.85 Z" fill="#262626"/>
<path d="M279.10,285.70 L274.90,286.85 L274.90,284.55 Z" fill="#262626"/>
<text x="308" y="249.9" font-size="7.5" font-weight="bold" text-anchor="start" fill="#000" textLength="33.3" lengthAdjust="spacing" >60-200kg</text>
<text x="308" y="259.7" font-size="7.5" font-weight="bold" text-anchor="start" fill="#000" textLength="81" lengthAdjust="spacing" >Cable Length: 6.5'/2m</text>
<text x="308" y="268.7" font-size="7.5" font-weight="bold" text-anchor="start" fill="#000" textLength="140" lengthAdjust="spacing" >Platform Size: 16&quot; x 16&quot;/40cm x 40cm</text>
<path d="M329.8,257.8 H344.5 Q346.7,257.8 346.7,260 V267.8 Q346.7,270 344.5,270 H335.5 L332,274 L332.6,270 H329.8 Q327.6,270 327.6,267.8 V260 Q327.6,257.8 329.8,257.8 Z" fill="#ffff00" stroke="#1a1a1a" stroke-width="1"/>
<line x1="330.3" y1="260.5" x2="344" y2="260.5" stroke="#8f8a00" stroke-width="1.3" />
<line x1="330.3" y1="263.4" x2="344" y2="263.4" stroke="#8f8a00" stroke-width="1.3" />
<line x1="330.3" y1="266.3" x2="340.5" y2="266.3" stroke="#8f8a00" stroke-width="1.3" />
<text x="487.4" y="226.9" font-size="8.6" font-weight="bold" text-anchor="start" fill="#000" textLength="63.1" lengthAdjust="spacingAndGlyphs" >Wiring diagram</text>
<text x="487.4" y="243.1" font-size="8.6" font-weight="bold" text-anchor="start" fill="#000" >+ Excitation</text>
<text x="577.6" y="243.1" font-size="8.6" font-weight="bold" text-anchor="start" fill="#000" >Red</text>
<text x="487.4" y="253.65" font-size="8.6" font-weight="bold" text-anchor="start" fill="#000" >- Excitation</text>
<text x="577.6" y="253.65" font-size="8.6" font-weight="bold" text-anchor="start" fill="#000" >Black</text>
<text x="487.4" y="264.2" font-size="8.6" font-weight="bold" text-anchor="start" fill="#000" >+ Signal</text>
<text x="577.6" y="264.2" font-size="8.6" font-weight="bold" text-anchor="start" fill="#000" >Green</text>
<text x="487.4" y="274.75" font-size="8.6" font-weight="bold" text-anchor="start" fill="#000" >- Signal</text>
<text x="577.6" y="274.75" font-size="8.6" font-weight="bold" text-anchor="start" fill="#000" >White</text>
</svg></body></html>
